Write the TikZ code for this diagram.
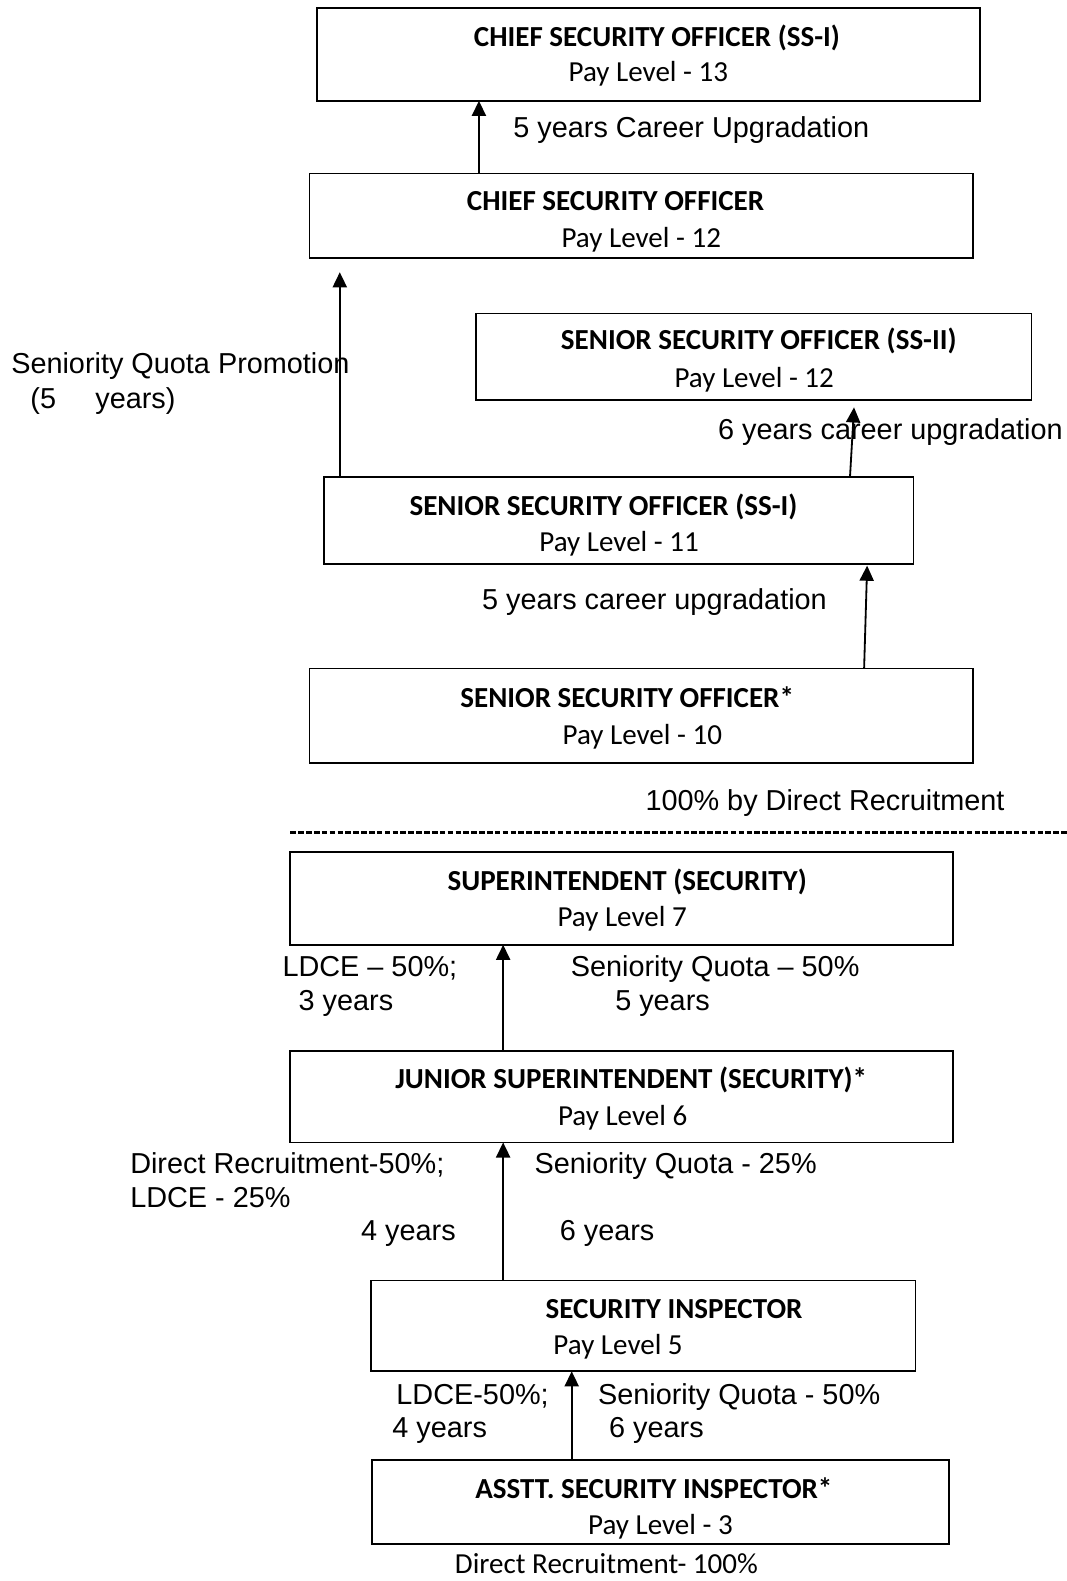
\documentclass[tikz,border=0pt]{standalone}
\usepackage{fontspec}
\setmainfont{Carlito}
\newfontfamily\arialf{Liberation Sans}
\usetikzlibrary{arrows.meta}
\begin{document}
\begin{tikzpicture}[x=1pt,y=-1pt,
  post/.style={draw, line width=1.8pt, inner sep=0pt, outer sep=0pt},
  ttl/.style={anchor=base, inner sep=0pt, font=\fontsize{28.8}{34}\selectfont\bfseries},
  pay/.style={anchor=base, inner sep=0pt, font=\fontsize{28.8}{34}\selectfont},
  lbl/.style={anchor=base west, inner sep=0pt, font=\arialf\fontsize{28.6}{34}\selectfont},
  arr/.style={line width=1.8pt, -{Triangle[length=15pt,width=14pt]}}]
\useasboundingbox (0,0) rectangle (1058,1568);

% posts (boxes)
\node[post, minimum width=658pt, minimum height=92pt] (b1) at (643,54) {};
\node[post, minimum width=658pt, minimum height=84pt] (b2) at (636,214) {};
\node[post, minimum width=551pt, minimum height=86pt] (b3) at (747.5,354) {};
\node[post, minimum width=585pt, minimum height=86pt] (b4) at (613.5,516) {};
\node[post, minimum width=658pt, minimum height=94pt] (b5) at (636,710) {};
\node[post, minimum width=657pt, minimum height=92pt] (b6) at (616.5,891) {};
\node[post, minimum width=657pt, minimum height=91pt] (b7) at (616.5,1087.5) {};
\node[post, minimum width=540pt, minimum height=90pt] (b8) at (638,1315) {};
\node[post, minimum width=572pt, minimum height=83pt] (b9) at (655,1489.5) {};

% titles and pay levels
\node[ttl] (t1) at (651.5,46) {CHIEF SECURITY OFFICER (SS-I)};
\node[pay] (p1) at (643,81) {Pay Level - 13};
\node[ttl] (t2) at (610.5,209) {CHIEF SECURITY OFFICER};
\node[pay] (p2) at (636,245) {Pay Level - 12};
\node[ttl] (t3) at (752.5,347) {SENIOR SECURITY OFFICER (SS-II)};
\node[pay] (p3) at (748,384) {Pay Level - 12};
\node[ttl] (t4) at (598.5,511) {SENIOR SECURITY OFFICER (SS-I)};
\node[pay] (p4) at (614,547) {Pay Level - 11};
\node[ttl] (t5) at (622,702) {SENIOR SECURITY OFFICER*};
\node[pay] (p5) at (637,738) {Pay Level - 10};
\node[ttl] (t6) at (622,883) {SUPERINTENDENT (SECURITY)};
\node[pay] (p6) at (617,919) {Pay Level 7};
\node[ttl] (t7) at (626,1080) {JUNIOR SUPERINTENDENT (SECURITY)*};
\node[pay] (p7) at (617.5,1116) {Pay Level 6};
\node[ttl] (t8) at (668.5,1308) {SECURITY INSPECTOR};
\node[pay] (p8) at (613,1343) {Pay Level 5};
\node[ttl] (t9) at (648.5,1486) {ASSTT. SECURITY INSPECTOR*};
\node[pay] (p9) at (655,1522) {Pay Level - 3};

% connectors
\coordinate (x1) at (475,0);
\draw[arr] (b2.north -| x1) -- (b1.south -| x1);
\coordinate (x2) at (337,0);
\coordinate (tip2) at (337,270);
\draw[arr] (b4.north -| x2) -- (tip2);
\coordinate (base3) at (843,0);
\coordinate (tip3) at (847,404);
\draw[arr] (b4.north -| base3) -- (tip3);
\coordinate (base4) at (857,0);
\coordinate (tip4) at (860,561);
\draw[arr] (b5.north -| base4) -- (tip4);
\coordinate (x5) at (499,0);
\draw[arr] (b7.north -| x5) -- (b6.south -| x5);
\draw[arr] (b8.north -| x5) -- (b7.south -| x5);
\coordinate (x7) at (567,0);
\draw[arr] (b9.north -| x7) -- (b8.south -| x7);

% separator
\coordinate (sepL) at (288,826);
\coordinate (sepR) at (1058,826);
\draw[line width=2.8pt, dash pattern=on 5.5pt off 2.3pt] (sepL) -- (sepR);

% labels
\node[lbl] (l1) at (509,136) {5 years Career Upgradation};
\node[lbl] (l2) at (11,370) {Seniority Quota Promotion};
\node[lbl] (l2b) at (30,405) {(5\hspace{39pt}years)};
\node[lbl] (l3) at (712,436) {6 years career upgradation};
\node[lbl] (l4) at (478,604) {5 years career upgradation};
\node[lbl] (l5) at (640,804) {100\% by Direct Recruitment};
\node[lbl] (l6a) at (280,968) {LDCE – 50\%;};
\node[lbl] (l6b) at (296,1002) {3 years};
\node[lbl] (l6c) at (566,968) {Seniority Quota – 50\%};
\node[lbl] (l6d) at (610,1002) {5 years};
\node[lbl] (l7a) at (129,1164) {Direct Recruitment-50\%;};
\node[lbl] (l7b) at (129,1198) {LDCE - 25\%};
\node[lbl] (l7c) at (530,1164) {Seniority Quota - 25\%};
\node[lbl] (l7d) at (358,1230) {4 years};
\node[lbl] (l7e) at (555,1230) {6 years};
\node[lbl] (l8a) at (393,1393) {LDCE-50\%;};
\node[lbl] (l8b) at (389,1426) {4 years};
\node[lbl] (l8c) at (593,1393) {Seniority Quota - 50\%};
\node[lbl] (l8d) at (604,1426) {6 years};
\node[anchor=base west, inner sep=0pt, font=\fontsize{28.8}{34}\selectfont] (l9) at (451,1561) {Direct Recruitment- 100\%};
\end{tikzpicture}
\end{document}
